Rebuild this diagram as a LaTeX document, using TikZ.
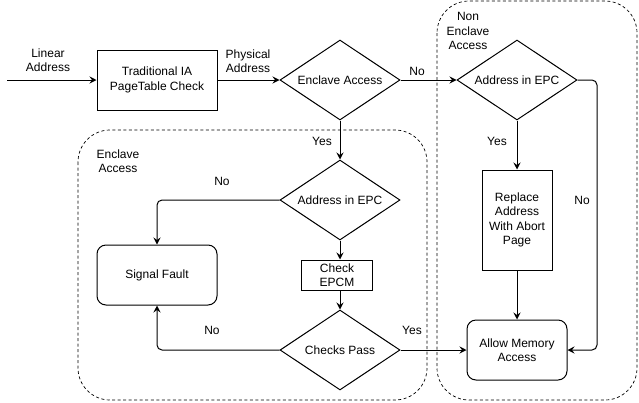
\documentclass[tikz,border=0pt]{standalone}
\usepackage{fontspec}
\setmainfont{Liberation Sans}
\usetikzlibrary{shapes.geometric,arrows.meta}

\begin{document}
\begin{tikzpicture}[x=1pt,y=-1pt,
    every node/.style={font=\fontsize{12}{14.4}\selectfont,align=center,inner sep=0pt},
    flow/.style={draw,line width=1pt,rounded corners=5pt,-{Stealth[length=7pt,width=7pt,inset=2.5pt]}},
    region/.style={draw,line width=0.7pt,dash pattern=on 3pt off 2.5pt,rounded corners=32pt},
    procbox/.style={draw,line width=1pt,minimum width=120pt,minimum height=60pt},
    termbox/.style={procbox,rounded corners=9pt},
    decide/.style={draw,line width=1pt,diamond,aspect=1.5,minimum width=120pt,minimum height=80pt}]
  \useasboundingbox (0,0) rectangle (639,402);
  % dashed regions
  \draw[region] (78,130) rectangle (427,400);
  \draw[region] (437,1) rectangle (637,400);
  \node (encl) at (118,161) {Enclave\\Access};
  \node (nencl) at (468,31) {Non\\Enclave\\Access};
  % main path
  \coordinate (linear) at (7,80);
  \node[procbox] (ptc) at (157,80) {Traditional IA\\PageTable Check};
  \node[decide] (ea) at (340,80) {Enclave Access};
  \node[decide] (nepc) at (517,80) {Address in EPC};
  \node[draw,line width=1pt,minimum width=70pt,minimum height=100pt] (repl) at (517,220)
    {Replace\\Address\\With Abort\\Page};
  \node[termbox,minimum width=100pt] (allow) at (517,350) {Allow Memory\\Access};
  % enclave side
  \node[decide] (eepc) at (340,200) {Address in EPC};
  \node[termbox] (fault) at (157,275) {Signal Fault};
  \node[draw,line width=1pt,minimum width=71pt,minimum height=30pt] (chk) at (337,275) {Check\\EPCM};
  \node[decide] (pass) at (340,350) {Checks Pass};
  \coordinate (nturn) at (597,350);
  % connectors
  \draw[flow] (linear) -- (ptc);
  \draw[flow] (ptc) -- (ea);
  \draw[flow] (ea) -- (nepc);
  \draw[flow] (ea) -- (eepc);
  \draw[flow] (nepc) -- (repl);
  \draw[flow] (repl) -- (allow);
  \draw[flow] (nepc.east) -| (nturn) -- (allow.east);
  \draw[flow] (eepc.west) -| (fault.north);
  \draw[flow] (eepc.south) -- (eepc.south |- chk.north);
  \draw[flow] (chk.south -| pass.north) -- (pass.north);
  \draw[flow] (pass.west) -| (fault.south);
  \draw[flow] (pass.east) -- (allow.west);
  % labels
  \node (llin) at (48,60) {Linear\\Address};
  \node (lphy) at (248,61) {Physical\\Address};
  \node (lno1) at (417,71) {No};
  \node (lyes1) at (322,141) {Yes};
  \node (lyes2) at (497,141) {Yes};
  \node (lno2) at (582,200) {No};
  \node (lno3) at (222,181) {No};
  \node (lno4) at (212,330) {No};
  \node (lyes3) at (412,330) {Yes};
\end{tikzpicture}
\end{document}
